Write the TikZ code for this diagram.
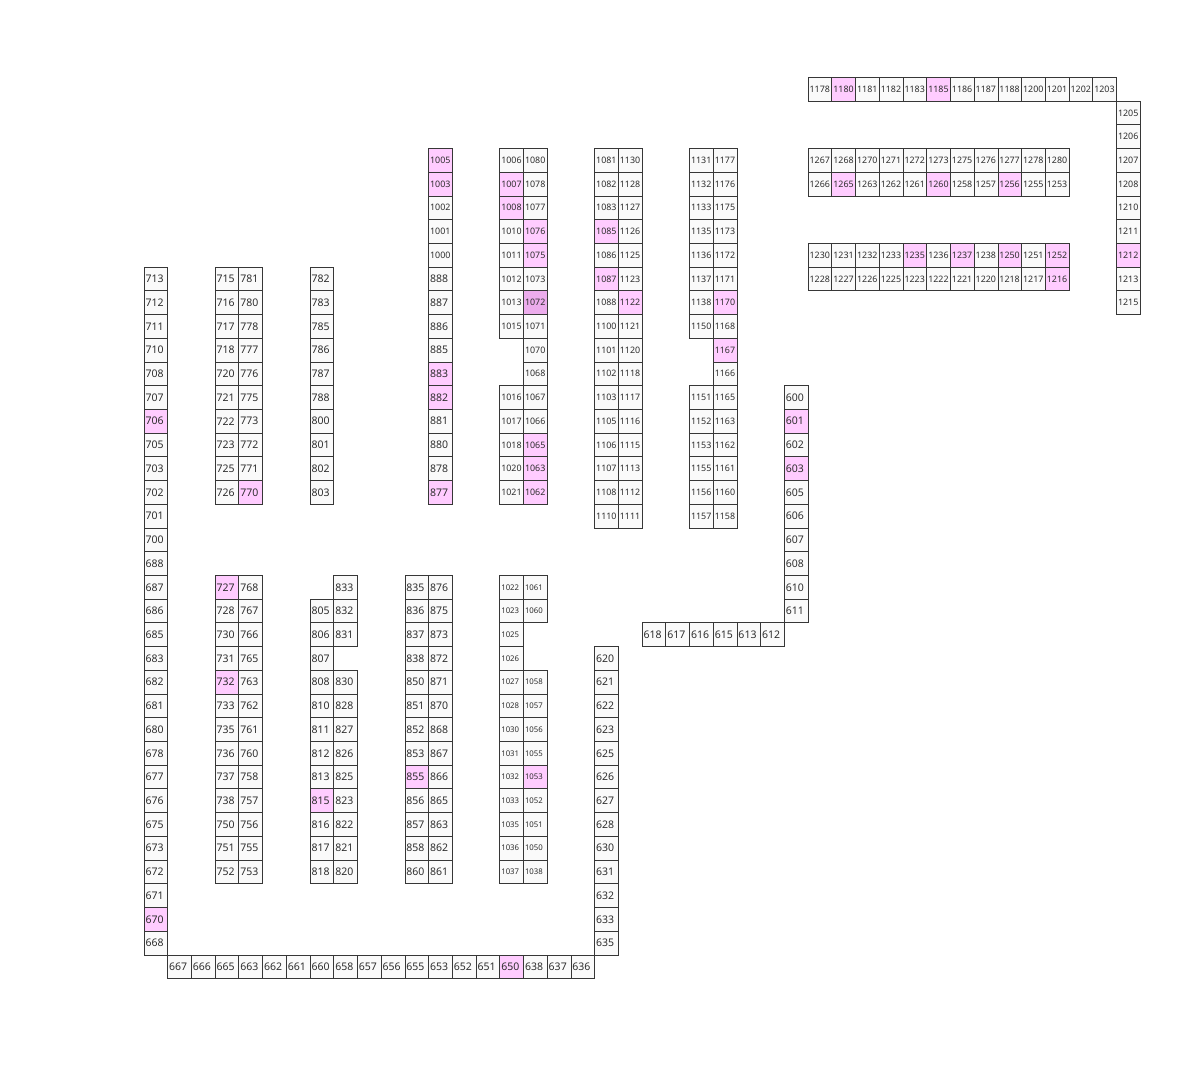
\documentclass[tikz,border=0pt]{standalone}
\usepackage{fontspec}
\setmainfont{Noto Sans}
\definecolor{cellline}{RGB}{55,55,55}
\definecolor{cellfill}{RGB}{250,250,250}
\definecolor{celltext}{RGB}{45,45,45}
\definecolor{hotpink}{RGB}{255,204,255}
\definecolor{hotpinkdark}{RGB}{236,172,236}
\tikzset{
  room/.style={draw=cellline, fill=cellfill, line width=0.8pt, text=celltext,
    minimum height=23.72pt, text width=20.72pt, inner xsep=1.5pt, inner ysep=0pt,
    align=left, font=\fontsize{10.5}{12}\selectfont},
  room4/.style={room, font=\fontsize{8.9}{10}\selectfont},
  room4s/.style={room, font=\fontsize{7.8}{9}\selectfont},
  hot/.style={fill=hotpink},
  hotter/.style={fill=hotpinkdark},
  hot room/.style={pk#1/.style=hot},
  hot room/.list={1180,1185,1265,1260,1256,1235,1237,1250,1252,1216,1212,1005,1003,
    883,882,877,1007,1008,1076,1075,1065,1063,1062,1085,1087,1122,1170,1167,
    601,603,706,770,727,732,815,855,1053,650,670},
  pk1072/.style=hotter,
}

\begin{document}
\begin{tikzpicture}[x=23.72pt,y=-23.72pt]
\useasboundingbox (-6.071,-3.259) rectangle (44.52,42.61);

% top right block
\foreach \lab [count=\k from 28] in {1178,1180,1181,1182,1183,1185,1186,1187,1188,1200,1201,1202,1203}
  \node[room4,pk\lab/.try] (r\lab) at (\k+.5,.5) {\lab};
\foreach \lab [count=\k from 1] in {1205,1206,1207,1208,1210,1211,1212,1213,1215}
  \node[room4,pk\lab/.try] (r\lab) at (41.5,\k+.5) {\lab};
\foreach \lab [count=\k from 28] in {1267,1268,1270,1271,1272,1273,1275,1276,1277,1278,1280}
  \node[room4,pk\lab/.try] (r\lab) at (\k+.5,3.5) {\lab};
\foreach \lab [count=\k from 28] in {1266,1265,1263,1262,1261,1260,1258,1257,1256,1255,1253}
  \node[room4,pk\lab/.try] (r\lab) at (\k+.5,4.5) {\lab};
\foreach \lab [count=\k from 28] in {1230,1231,1232,1233,1235,1236,1237,1238,1250,1251,1252}
  \node[room4,pk\lab/.try] (r\lab) at (\k+.5,7.5) {\lab};
\foreach \lab [count=\k from 28] in {1228,1227,1226,1225,1223,1222,1221,1220,1218,1217,1216}
  \node[room4,pk\lab/.try] (r\lab) at (\k+.5,8.5) {\lab};

% upper middle columns
\foreach \lab [count=\k from 3] in {1005,1003,1002,1001,1000}
  \node[room4,pk\lab/.try] (r\lab) at (12.5,\k+.5) {\lab};
\foreach \lab [count=\k from 8] in {888,887,886,885,883,882,881,880,878,877}
  \node[room,pk\lab/.try] (r\lab) at (12.5,\k+.5) {\lab};
\foreach \lab [count=\k from 3] in {1006,1007,1008,1010,1011,1012,1013,1015}
  \node[room4,pk\lab/.try] (r\lab) at (15.5,\k+.5) {\lab};
\foreach \lab [count=\k from 13] in {1016,1017,1018,1020,1021}
  \node[room4,pk\lab/.try] (r\lab) at (15.5,\k+.5) {\lab};
\foreach \lab [count=\k from 3] in {1080,1078,1077,1076,1075,1073,1072,1071,1070,1068,1067,1066,1065,1063,1062}
  \node[room4,pk\lab/.try] (r\lab) at (16.5,\k+.5) {\lab};
\foreach \lab [count=\k from 3] in {1081,1082,1083,1085,1086,1087,1088,1100,1101,1102,1103,1105,1106,1107,1108,1110}
  \node[room4,pk\lab/.try] (r\lab) at (19.5,\k+.5) {\lab};
\foreach \lab [count=\k from 3] in {1130,1128,1127,1126,1125,1123,1122,1121,1120,1118,1117,1116,1115,1113,1112,1111}
  \node[room4,pk\lab/.try] (r\lab) at (20.5,\k+.5) {\lab};
\foreach \lab [count=\k from 3] in {1131,1132,1133,1135,1136,1137,1138,1150}
  \node[room4,pk\lab/.try] (r\lab) at (23.5,\k+.5) {\lab};
\foreach \lab [count=\k from 13] in {1151,1152,1153,1155,1156,1157}
  \node[room4,pk\lab/.try] (r\lab) at (23.5,\k+.5) {\lab};
\foreach \lab [count=\k from 3] in {1177,1176,1175,1173,1172,1171,1170,1168,1167,1166,1165,1163,1162,1161,1160,1158}
  \node[room4,pk\lab/.try] (r\lab) at (24.5,\k+.5) {\lab};

% 600 corridor
\foreach \lab [count=\k from 13] in {600,601,602,603,605,606,607,608,610,611}
  \node[room,pk\lab/.try] (r\lab) at (27.5,\k+.5) {\lab};
\foreach \lab [count=\k from 21] in {618,617,616,615,613,612}
  \node[room,pk\lab/.try] (r\lab) at (\k+.5,23.5) {\lab};
\foreach \lab [count=\k from 24] in {620,621,622,623,625,626,627,628,630,631,632,633,635}
  \node[room,pk\lab/.try] (r\lab) at (19.5,\k+.5) {\lab};
\foreach \lab [count=\k from 1] in {667,666,665,663,662,661,660,658,657,656,655,653,652,651,650,638,637,636}
  \node[room,pk\lab/.try] (r\lab) at (\k+.5,37.5) {\lab};

% left side
\foreach \lab [count=\k from 8] in {713,712,711,710,708,707,706,705,703,702,701,700,688,687,686,685,
    683,682,681,680,678,677,676,675,673,672,671,670,668}
  \node[room,pk\lab/.try] (r\lab) at (.5,\k+.5) {\lab};
\foreach \lab [count=\k from 8] in {715,716,717,718,720,721,722,723,725,726}
  \node[room,pk\lab/.try] (r\lab) at (3.5,\k+.5) {\lab};
\foreach \lab [count=\k from 8] in {781,780,778,777,776,775,773,772,771,770}
  \node[room,pk\lab/.try] (r\lab) at (4.5,\k+.5) {\lab};
\foreach \lab [count=\k from 8] in {782,783,785,786,787,788,800,801,802,803}
  \node[room,pk\lab/.try] (r\lab) at (7.5,\k+.5) {\lab};

% lower middle columns
\foreach \lab [count=\k from 21] in {727,728,730,731,732,733,735,736,737,738,750,751,752}
  \node[room,pk\lab/.try] (r\lab) at (3.5,\k+.5) {\lab};
\foreach \lab [count=\k from 21] in {768,767,766,765,763,762,761,760,758,757,756,755,753}
  \node[room,pk\lab/.try] (r\lab) at (4.5,\k+.5) {\lab};
\foreach \lab [count=\k from 22] in {805,806,807,808,810,811,812,813,815,816,817,818}
  \node[room,pk\lab/.try] (r\lab) at (7.5,\k+.5) {\lab};
\foreach \lab [count=\k from 21] in {833,832,831}
  \node[room,pk\lab/.try] (r\lab) at (8.5,\k+.5) {\lab};
\foreach \lab [count=\k from 25] in {830,828,827,826,825,823,822,821,820}
  \node[room,pk\lab/.try] (r\lab) at (8.5,\k+.5) {\lab};
\foreach \lab [count=\k from 21] in {835,836,837,838,850,851,852,853,855,856,857,858,860}
  \node[room,pk\lab/.try] (r\lab) at (11.5,\k+.5) {\lab};
\foreach \lab [count=\k from 21] in {876,875,873,872,871,870,868,867,866,865,863,862,861}
  \node[room,pk\lab/.try] (r\lab) at (12.5,\k+.5) {\lab};
\foreach \lab [count=\k from 21] in {1022,1023,1025,1026,1027,1028,1030,1031,1032,1033,1035,1036,1037}
  \node[room4s,pk\lab/.try] (r\lab) at (15.5,\k+.5) {\lab};
\foreach \lab [count=\k from 21] in {1061,1060}
  \node[room4s,pk\lab/.try] (r\lab) at (16.5,\k+.5) {\lab};
\foreach \lab [count=\k from 25] in {1058,1057,1056,1055,1053,1052,1051,1050,1038}
  \node[room4s,pk\lab/.try] (r\lab) at (16.5,\k+.5) {\lab};

\end{tikzpicture}
\end{document}
